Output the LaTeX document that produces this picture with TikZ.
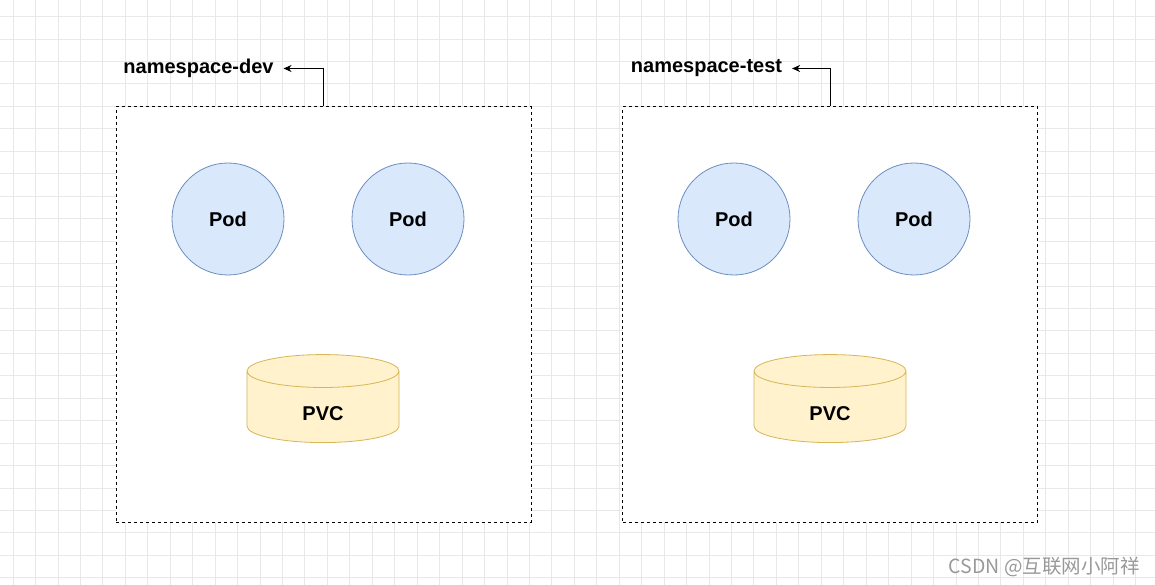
\documentclass[tikz,border=0pt]{standalone}
\usepackage{fontspec}
\setmainfont{Liberation Sans}
\newfontfamily\cjkfont{Noto Sans CJK SC}
\usetikzlibrary{arrows.meta, positioning, shapes.geometric}

\definecolor{podfill}{HTML}{DAE8FC}
\definecolor{podline}{HTML}{6C8EBF}
\definecolor{pvcfill}{HTML}{FFF2CC}
\definecolor{pvcline}{HTML}{D6B656}
\definecolor{gridline}{HTML}{E8E8E8}
\definecolor{markgray}{HTML}{999999}

\begin{document}
\begin{tikzpicture}[x=1pt, y=-1pt,
      nsbox/.style={draw, dash pattern=on 3pt off 3pt, line width=1pt, fill=white, minimum width=415pt, minimum height=415pt},
      nslabel/.style={inner sep=0pt, outer xsep=10pt, font=\fontsize{20}{24}\selectfont\bfseries},
      pod/.style={circle, draw=podline, fill=podfill, line width=0.8pt, minimum size=112pt, inner sep=0pt, font=\fontsize{20}{24}\selectfont\bfseries},
      pvc/.style={cylinder, shape border rotate=90, aspect=0.8, draw=pvcline, fill=pvcfill, line width=0.8pt, minimum width=152pt, minimum height=88pt, inner sep=0pt, text height=26pt, text depth=0pt, font=\fontsize{20}{24}\selectfont\bfseries},
      arrow/.style={-{Stealth[length=8pt, width=7pt]}, line width=1pt}
    ]
    \useasboundingbox (0,0) rectangle (1155,585);
    % background grid
    \foreach \i in {0,...,51}
      \draw[gridline, line width=0.8pt] ({13+22.45*\i},0) -- ({13+22.45*\i},585);
    \foreach \j in {0,...,26}
      \draw[gridline, line width=0.8pt] (0,{16.5+22.45*\j}) -- (1155,{16.5+22.45*\j});

    % namespace dev
    \node[nsbox] (boxdev) at (323.5,314.5) {};
    \node[nslabel] (nsdev) at (198.5,68.5) {namespace-dev};
    \node[pod] (poddevA) at (228,219) {Pod};
    \node[pod] (poddevB) at (408,219) {Pod};
    \node[pvc] (pvcdev) at (323,407) {PVC};
    \draw[arrow] (boxdev.north) |- (nsdev.east);

    % namespace test
    \node[nsbox] (boxtest) at (830,314.5) {};
    \node[nslabel] (nstest) at (706.5,68.5) {namespace-test};
    \node[pod] (podtestA) at (734,219) {Pod};
    \node[pod] (podtestB) at (914,219) {Pod};
    \node[pvc] (pvctest) at (830,407) {PVC};
    \draw[arrow] (boxtest.north) |- (nstest.east);

    % watermark
    \node[anchor=east, inner sep=0pt, text=markgray, font=\cjkfont\fontsize{19.5}{23}\selectfont] (mark) at (1140,567) {CSDN @互联网小阿祥};
  \end{tikzpicture}
\end{document}
